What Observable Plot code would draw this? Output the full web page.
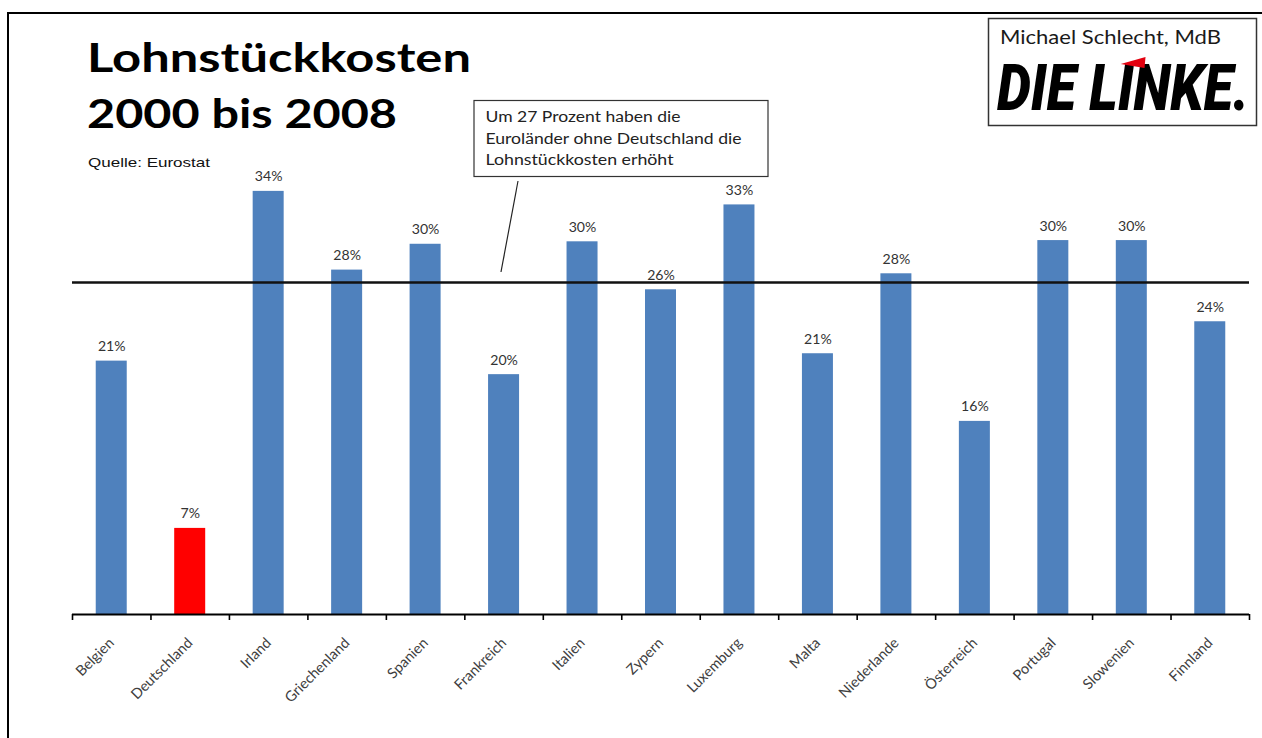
<!DOCTYPE html>
<html>
<head>
<meta charset="utf-8">
<script src="https://cdn.jsdelivr.net/npm/d3@7"></script>
<script src="https://cdn.jsdelivr.net/npm/@observablehq/plot@0.6"></script>
<style>
  html, body { margin: 0; padding: 0; background: #fff; }
  #wrap { position: relative; width: 1262px; height: 738px; overflow: hidden; background: #fff; }
  #frame { position: absolute; left: 7px; top: 12px; width: 1300px; height: 800px;
           border-left: 2px solid #000; border-top: 2px solid #000; }
  #chart { position: absolute; left: 0; top: 0; }
  #overlay { position: absolute; left: 0; top: 0; pointer-events: none; }
</style>
</head>
<body>
<div id="wrap">
  <div id="frame"></div>
  <div id="chart"></div>
  <svg id="overlay" width="1262" height="738" xmlns="http://www.w3.org/2000/svg"></svg>
</div>
<script>
// ---- data ----
const countries = ["Belgien", "Deutschland", "Irland", "Griechenland", "Spanien", "Frankreich",
  "Italien", "Zypern", "Luxemburg", "Malta", "Niederlande", "Österreich", "Portugal", "Slowenien", "Finnland"];
const values = [20.6, 7.0, 34.4, 28.0, 30.1, 19.5, 30.3, 26.4, 33.3, 21.2, 27.7, 15.7, 30.4, 30.4, 23.8];
const labels = [21, 7, 34, 28, 30, 20, 30, 26, 33, 21, 28, 16, 30, 30, 24];
const highlight = "Deutschland";
const average = 27;
const titleLines = ["Lohnstückkosten", "2000 bis 2008"];
const sourceText = "Quelle: Eurostat";
const calloutLines = ["Um 27 Prozent haben die", "Euroländer ohne Deutschland die", "Lohnstückkosten erhöht"];
const authorText = "Michael Schlecht, MdB";
const logoText = "DIE LINKE.";

const blue = "#4F81BD", red = "#FF0000";
const rows = countries.map((c, i) => ({country: c, value: values[i], label: labels[i]}));

const W = 1262, H = 738, mL = 72, mR = 13, mT = 122, mB = 124;
const bw = (W - mL - mR) / countries.length;
const barW = 31;
const inset = (bw - barW) / 2;

const plot = Plot.plot({
  width: W, height: H,
  marginLeft: mL, marginRight: mR, marginTop: mT, marginBottom: mB,
  style: {fontFamily: "Lato, 'Open Sans', sans-serif", background: "transparent", overflow: "visible"},
  x: {domain: countries, padding: 0, round: false, axis: null},
  y: {domain: [0, 40], axis: null},
  marks: [
    Plot.barY(rows.filter(d => d.country !== highlight), {x: "country", y: "value", fill: blue, insetLeft: inset, insetRight: inset}),
    Plot.barY(rows.filter(d => d.country === highlight), {x: "country", y: "value", fill: red, insetLeft: inset, insetRight: inset}),
    Plot.ruleY([average], {stroke: "#111", strokeWidth: 2.5}),
    Plot.ruleY([0], {stroke: "#000", strokeWidth: 2}),
    Plot.axisX({tickSize: 6, fill: "none", stroke: "#000", strokeWidth: 1.6, dx: -bw / 2, label: null}),
    Plot.axisX([countries[countries.length - 1]], {tickSize: 6, fill: "none", stroke: "#000", strokeWidth: 1.6, dx: bw / 2, label: null}),
    Plot.axisX({tickSize: 0, tickRotate: -45, tickPadding: 26, fontSize: 14.5, fill: "#404040", label: null}),
    Plot.text(rows, {x: "country", y: "value", text: d => d.label + "%", dy: -10, lineAnchor: "bottom",
      fontSize: 12.5, fill: "#333", className: "vlabel"})
  ]
});
document.getElementById("chart").appendChild(plot);

// widen value labels slightly (reference glyphs are horizontally stretched)
const stretch = 1.13;
plot.querySelectorAll(".vlabel text").forEach(el => {
  const t = el.getAttribute("transform") || "";
  if (/translate/.test(t) && !el.hasAttribute("x")) el.setAttribute("transform", `${t} scale(${stretch},1)`);
});

// ---- overlay: title, source, callout, logo ----
const ov = d3.select("#overlay");
function fitText(sel, x, y, str, len, style) {
  const t = sel.append("text").attr("x", x).attr("y", y).text(str)
    .attr("textLength", len).attr("lengthAdjust", "spacingAndGlyphs");
  Object.entries(style).forEach(([k, v]) => t.style(k, v));
  return t;
}
const titleStyle = {"font-family": "Lato, 'Open Sans', sans-serif", "font-weight": 700, "font-size": "40px", "fill": "#000"};
fitText(ov, 87, 72, titleLines[0], 384, titleStyle);
fitText(ov, 87, 128, titleLines[1], 310, titleStyle);
fitText(ov, 88, 167, sourceText, 122, {"font-family": "'Liberation Sans', Arial, sans-serif", "font-size": "13.5px", "fill": "#111"});

// callout
ov.append("rect").attr("x", 474).attr("y", 100.5).attr("width", 294).attr("height", 76)
  .attr("fill", "#fff").attr("stroke", "#333").attr("stroke-width", 1.2);
const cStyle = {"font-family": "Lato, 'Open Sans', sans-serif", "font-size": "14.5px", "fill": "#222"};
const cLens = [195, 256, 188];
calloutLines.forEach((s, i) => fitText(ov, 485.5, 122 + i * 21.5, s, cLens[i], cStyle));
ov.append("line").attr("x1", 518).attr("y1", 181).attr("x2", 501).attr("y2", 272)
  .attr("stroke", "#222").attr("stroke-width", 1.2);

// logo box
ov.append("rect").attr("x", 988.5).attr("y", 18.5).attr("width", 268).attr("height", 107)
  .attr("fill", "#fff").attr("stroke", "#333").attr("stroke-width", 1.5);
fitText(ov, 1000, 44, authorText, 221, {"font-family": "Lato, 'Open Sans', sans-serif", "font-size": "18.5px", "fill": "#1a1a1a"});
// logo text: natural glyphs, condensed uniformly to the reference width
const lx = 997, ly = 110, targetW = 252;
const logoG = ov.append("g");
const logo = logoG.append("text").attr("x", 0).attr("y", 0).text(logoText)
  .style("font-family", "Roboto, 'Liberation Sans', sans-serif").style("font-weight", 900)
  .style("font-style", "italic").style("font-size", "64px").style("fill", "#000");
let k = 0.72;
try { const nat = logo.node().getComputedTextLength(); if (nat > 0) k = targetW / nat; } catch (e) {}
logoG.attr("transform", `translate(${lx},${ly}) scale(${k},1)`);
// red flag above the I of LINKE (char index 5)
let fx0 = 1110, fx1 = 1134;
try {
  const s = logo.node().getStartPositionOfChar(5).x, e = logo.node().getEndPositionOfChar(5).x;
  if (isFinite(s) && isFinite(e) && e > s) { fx0 = lx + s * k + 3; fx1 = lx + e * k + 12; }
} catch (err) {}
ov.append("polygon").attr("points", `${fx0},64 ${fx1},57 ${fx1 - 1},68`).attr("fill", "#E3000F");
</script>
</body>
</html>
